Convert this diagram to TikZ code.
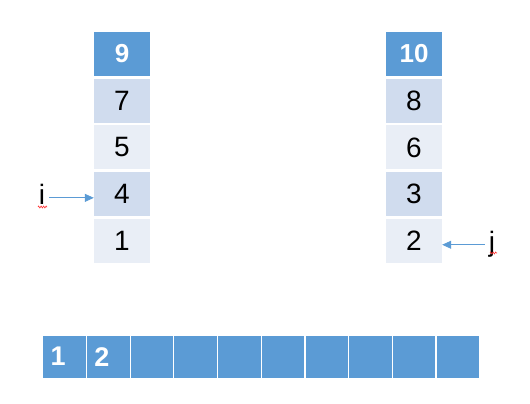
\documentclass[tikz,border=0pt]{standalone}
\usepackage{fontspec}
\setmainfont{Liberation Sans}
\usetikzlibrary{arrows.meta, decorations.pathmorphing}
\definecolor{hdblue}{HTML}{5B9BD5}
\definecolor{banddark}{HTML}{D0DCEE}
\definecolor{bandlight}{HTML}{E9EEF6}
\tikzstyle{cell} = [
    rectangle,
    minimum width=56pt,
    minimum height=44pt,
    inner sep=0pt,
    font=\fontsize{28}{30}\selectfont
]
\tikzstyle{head} = [
    cell,
    fill=hdblue,
    text=white,
    font=\fontsize{26}{28}\selectfont\bfseries
]
\tikzstyle{dark} = [cell, fill=banddark]
\tikzstyle{light} = [cell, fill=bandlight]
\tikzstyle{slot} = [
    rectangle,
    minimum width=43.7pt,
    minimum height=43pt,
    inner xsep=8pt,
    text width=27.7pt,
    align=left,
    fill=hdblue,
    draw=white,
    line width=1.2pt,
    text=white,
    font=\fontsize{27}{29}\selectfont\bfseries
]
\tikzstyle{pointer} = [inner sep=4pt, font=\fontsize{28}{30}\selectfont]
\tikzstyle{arrow} = [line width=0.8pt, draw=hdblue, fill=hdblue, -{Triangle[length=9pt,width=8pt]}]
\tikzstyle{typo} = [
    draw=red!80,
    line width=0.6pt,
    decorate,
    decoration={zigzag, segment length=2.5pt, amplitude=1pt}
]

\begin{document}
\begin{tikzpicture}[x=1pt, y=1pt, node distance=46.75pt]
\useasboundingbox (0,0) rectangle (530,404);

% left run
\node (l9) [head] at (122,350) {9};
\node (l7) [dark, below of=l9] {7};
\node (l5) [light, below of=l7] {5};
\node (l4) [dark, below of=l5] {4};
\node (l1) [light, below of=l4] {1};

% right run
\node (r10) [head] at (414,350) {10};
\node (r8) [dark, below of=r10] {8};
\node (r6) [light, below of=r8] {6};
\node (r3) [dark, below of=r6] {3};
\node (r2) [light, below of=r3] {2};

% pointers
\node (ip) [pointer, anchor=base] at (42,199) {i};
\node (jp) [pointer, anchor=base] at (492,152) {j};
\draw [typo] ([xshift=-4pt,yshift=-2pt]ip.base) -- ([xshift=5pt,yshift=-2pt]ip.base);
\draw [typo] ([xshift=-2pt,yshift=-1pt]jp.base) -- ([xshift=5pt,yshift=-1pt]jp.base);
\draw [arrow] ([yshift=-3pt]ip.east) -- ([yshift=-3pt]ip.east -| l4.west);
\draw [arrow] (jp.west) -- (jp.west -| r2.east);

% merged output
\begin{scope}[node distance=43.7pt]
\node (a1) [slot] at (64.55,47.3) {1};
\node (a2) [slot, right of=a1] {2};
\node (a3) [slot, right of=a2] {};
\node (a4) [slot, right of=a3] {};
\node (a5) [slot, right of=a4] {};
\node (a6) [slot, right of=a5] {};
\node (a7) [slot, right of=a6] {};
\node (a8) [slot, right of=a7] {};
\node (a9) [slot, right of=a8] {};
\node (a10) [slot, right of=a9] {};
\end{scope}

\end{tikzpicture}
\end{document}
